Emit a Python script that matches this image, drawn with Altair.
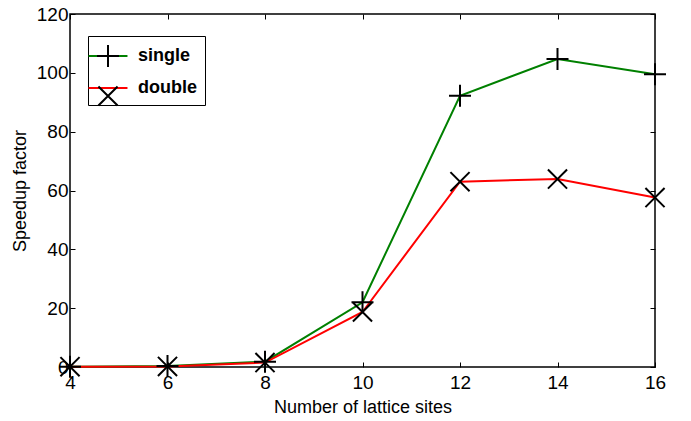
import altair as alt
import pandas as pd

SITES = [4, 6, 8, 10, 12, 14, 16]
SINGLE = [0.1, 0.3, 1.8, 22.0, 92.2, 104.7, 99.5]
DOUBLE = [0.1, 0.2, 1.5, 18.7, 63.0, 63.9, 57.6]
SERIES = ["single", "double"]
COLORS = ["#008000", "#ff0000"]
X_TICKS = [4, 6, 8, 10, 12, 14, 16]
Y_TICKS = [0, 20, 40, 60, 80, 100, 120]

rows = []
for name, vals in zip(SERIES, [SINGLE, DOUBLE]):
    for s, v in zip(SITES, vals):
        rows.append({"sites": s, "speedup": v, "series": name, "marker": name})
df = pd.DataFrame(rows)

PLUS = "M-1,0H1M0,-1V1"
CROSS = "M-0.87,-0.87L0.87,0.87M-0.87,0.87L0.87,-0.87"
LINE = "M-1.77,0H1.77"
FONT = "Liberation Sans"

xs = alt.Scale(domain=[4, 16], nice=False, zero=False)
ys = alt.Scale(domain=[0, 120], nice=False)

ax = dict(grid=False, domain=False, tickColor="black", tickWidth=1, tickSize=5,
          offset=-5, labelFont=FONT, labelFontSize=19, labelColor="black",
          labelFlush=False, labelOverlap=False, titleFont=FONT, titleFontSize=18,
          titleFontWeight="normal", titleColor="black")

leg = dict(orient="none", legendX=18, legendY=22, title=None, padding=8,
           symbolSize=484, symbolStrokeWidth=2, labelFont=FONT, labelFontSize=18,
           labelFontWeight="bold", labelColor="black", labelOffset=18,
           rowPadding=11, symbolOffset=0)

base = alt.Chart(df)

lines = base.mark_line(strokeWidth=2).encode(
    x=alt.X("sites:Q", scale=xs,
            axis=alt.Axis(orient="bottom", title="Number of lattice sites",
                          values=X_TICKS, titlePadding=6, labelPadding=6, **ax)),
    y=alt.Y("speedup:Q", scale=ys,
            axis=alt.Axis(orient="left", title="Speedup factor", values=Y_TICKS,
                          titlePadding=7, labelPadding=2, **ax)),
    color=alt.Color("series:N", sort=SERIES,
                    scale=alt.Scale(domain=SERIES, range=COLORS),
                    legend=alt.Legend(symbolType=LINE, fillColor="white",
                                      strokeColor="black", **leg)),
)

points = base.mark_point(filled=False, strokeWidth=2, size=484, color="black",
                         opacity=1).encode(
    x=alt.X("sites:Q", scale=xs,
            axis=alt.Axis(orient="top", title=None, labels=False,
                          values=X_TICKS, **ax)),
    y=alt.Y("speedup:Q", scale=ys,
            axis=alt.Axis(orient="right", title=None, labels=False,
                          values=Y_TICKS, **ax)),
    shape=alt.Shape("marker:N", sort=SERIES,
                    scale=alt.Scale(range=[PLUS, CROSS]),
                    legend=alt.Legend(symbolStrokeColor="black", labelExpr="''",
                                      **leg)),
)

chart = alt.layer(lines, points).resolve_axis(
    x="independent", y="independent"
).properties(
    width=585, height=353,
    autosize=alt.AutoSizeParams(type="none"),
    padding={"left": 62, "top": 6, "right": 28, "bottom": 50},
).configure_view(stroke="black", strokeWidth=1.5)

chart.save("out.html", embed_options={"renderer": "svg", "actions": False})
